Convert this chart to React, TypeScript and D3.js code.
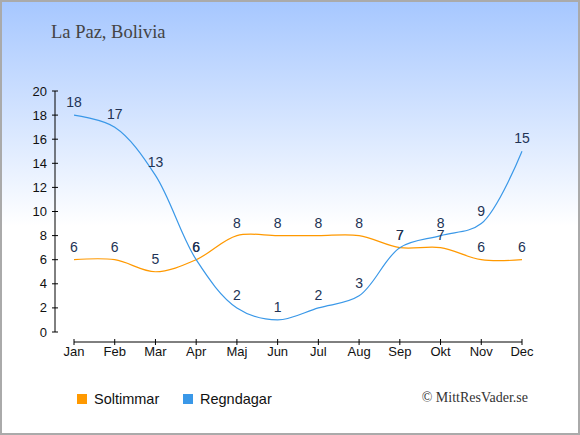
import * as d3 from "d3";

// La Paz climate — sun hours and rain days per month
const MONTHS = ["Jan", "Feb", "Mar", "Apr", "Maj", "Jun", "Jul", "Aug", "Sep", "Okt", "Nov", "Dec"];
const SUN_HOURS = [6, 6, 5, 6, 8, 8, 8, 8, 7, 7, 6, 6];
const RAIN_DAYS = [18, 17, 13, 6, 2, 1, 2, 3, 7, 8, 9, 15];
const Y_TICKS = [0, 2, 4, 6, 8, 10, 12, 14, 16, 18, 20];

const W = 580;
const H = 435;
const SUN_COLOR = "#ff9900";
const RAIN_COLOR = "#3a98e8";
const LABEL_COLOR = "#223355";

export default function App() {
  const x = d3.scalePoint<string>().domain(MONTHS).range([74, 522]);
  const y = d3.scaleLinear().domain([0, 20]).range([332, 91]);
  const axisX = 55;
  const axisY = 342;

  const line = d3
    .line<number>()
    .x((_d, i) => x(MONTHS[i])!)
    .y((d) => y(d))
    .curve(d3.curveCatmullRom.alpha(0.5));

  const series = [
    { name: "Soltimmar", values: SUN_HOURS, color: SUN_COLOR },
    { name: "Regndagar", values: RAIN_DAYS, color: RAIN_COLOR },
  ];

  return (
    <svg
      width={W}
      height={H}
      style={{ position: "absolute", left: 0, top: 0, display: "block" }}
      fontFamily="'Liberation Sans', Arial, sans-serif"
    >
      <defs>
        <linearGradient id="bg" x1="0" y1="0" x2="0" y2="1">
          <stop offset="0" stopColor="#a6c7ff" />
          <stop offset="0.52" stopColor="#ffffff" />
          <stop offset="1" stopColor="#ffffff" />
        </linearGradient>
      </defs>
      <rect x={1} y={1} width={W - 2} height={H - 2} fill="url(#bg)" stroke="#aaaaaa" strokeWidth={2} />

      <text x={51} y={38} fontFamily="'Liberation Serif', serif" fontSize={18.5} fill="#444444">
        La Paz, Bolivia
      </text>

      {/* y axis */}
      <line x1={axisX} x2={axisX} y1={y(20)} y2={y(0)} stroke="#000" strokeWidth={1} />
      {Y_TICKS.map((t) => (
        <g key={t}>
          <line x1={axisX - 3} x2={axisX + 3} y1={y(t)} y2={y(t)} stroke="#000" />
          <text x={47} y={y(t)} dy="0.35em" textAnchor="end" fontSize={13} fill="#111">
            {t}
          </text>
        </g>
      ))}

      {/* x axis */}
      <line x1={x("Jan")!} x2={x("Dec")!} y1={axisY} y2={axisY} stroke="#000" strokeWidth={1} />
      {MONTHS.map((m) => (
        <g key={m}>
          <line x1={x(m)!} x2={x(m)!} y1={axisY - 3} y2={axisY + 3} stroke="#000" />
          <text x={x(m)!} y={356} textAnchor="middle" fontSize={13} fill="#111">
            {m}
          </text>
        </g>
      ))}

      {/* series lines */}
      {series.map((s) => (
        <path key={s.name} d={line(s.values)!} fill="none" stroke={s.color} strokeWidth={1.2} />
      ))}

      {/* value labels */}
      {series.map((s) =>
        s.values.map((v, i) => (
          <text
            key={s.name + i}
            x={x(MONTHS[i])!}
            y={y(v) - 8}
            textAnchor="middle"
            fontSize={14}
            fill={LABEL_COLOR}
          >
            {v}
          </text>
        )),
      )}

      {/* legend */}
      {series.map((s, i) => (
        <g key={s.name} transform={`translate(${77 + i * 106},394)`}>
          <rect width={10} height={10} fill={s.color} />
          <text x={17} y={9.5} fontSize={14.5} fill="#111">
            {s.name}
          </text>
        </g>
      ))}

      <text x={528} y={402} textAnchor="end" fontFamily="'Liberation Serif', serif" fontSize={14} fill="#333">
        © MittResVader.se
      </text>
    </svg>
  );
}
